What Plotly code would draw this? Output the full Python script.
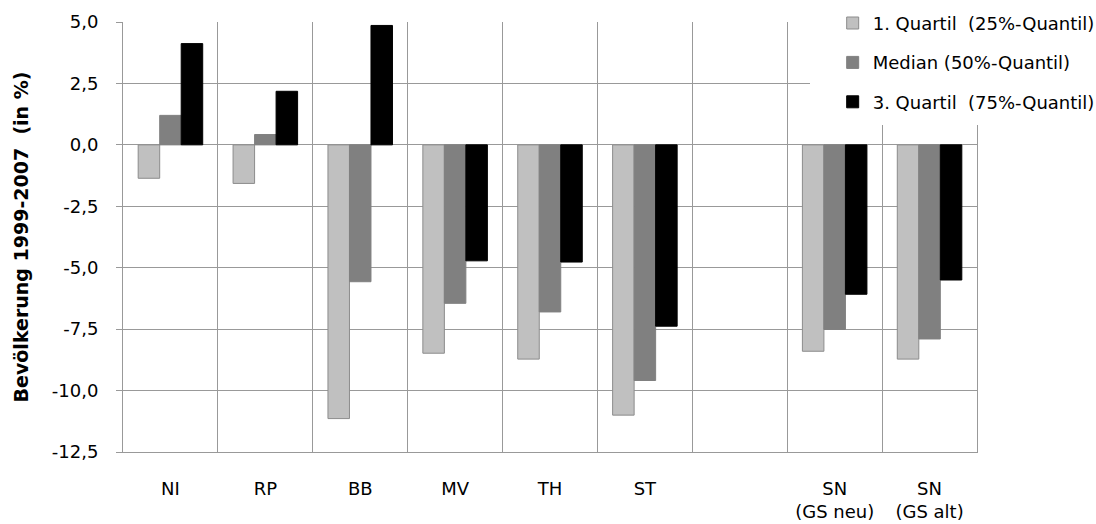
import plotly.graph_objects as go

categories = ["NI", "RP", "BB", "MV", "TH", "ST", " ", "SN<br>(GS neu)", "SN<br>(GS alt)"]
q1 = [-1.36, -1.57, -11.14, -8.48, -8.72, -11.00, None, -8.40, -8.72]
median = [1.20, 0.42, -5.57, -6.45, -6.80, -9.59, None, -7.51, -7.90]
q3 = [4.12, 2.18, 4.86, -4.72, -4.77, -7.38, None, -6.08, -5.50]

y_tick_values = [5.0, 2.5, 0.0, -2.5, -5.0, -7.5, -10.0, -12.5]
y_tick_labels = ["5,0", "2,5", "0,0", "-2,5", "-5,0", "-7,5", "-10,0", "-12,5"]

series_names = ["1. Quartil\u00a0 (25%-Quantil)", "Median (50%-Quantil)", "3. Quartil\u00a0 (75%-Quantil)"]
series_values = [q1, median, q3]
fills = ["#c0c0c0", "#808080", "#000000"]
outlines = ["#8c8c8c", "#808080", "#000000"]

FONT = "DejaVu Sans"
GRID = "#999999"

fig = go.Figure()
for i, (name, vals) in enumerate(zip(series_names, series_values)):
    fig.add_trace(go.Bar(
        x=categories, y=vals, name=name, legendgroup=f"g{i}",
        marker=dict(color=fills[i], line=dict(color=outlines[i], width=1)),
    ))

fig.update_layout(
    width=1096, height=524,
    margin=dict(l=123, r=119, t=22, b=72, autoexpand=False),
    paper_bgcolor="white", plot_bgcolor="white",
    barmode="group", bargap=0.32, bargroupgap=0,
    font=dict(family=FONT, size=18, color="#000000"),
    showlegend=True,
    legend=dict(
        x=0.831, xanchor="left", y=1.04, yanchor="top",
        bgcolor="rgba(0,0,0,0)", borderwidth=0,
        traceorder="grouped", tracegroupgap=13,
        font=dict(family=FONT, size=18, color="#000000"),
    ),
    shapes=[dict(
        type="rect", xref="paper", yref="paper",
        x0=(810 - 123) / 854, x1=1.2, y0=(452 - 125) / 430, y1=1.1,
        fillcolor="white", line=dict(width=0), layer="above",
    )],
)

fig.update_xaxes(
    type="category", tickson="boundaries",
    showgrid=True, gridcolor=GRID, gridwidth=1,
    showline=True, linecolor=GRID, linewidth=1, ticks="", zeroline=False,
    tickfont=dict(family=FONT, size=18, color="#000000"),
    ticklabelstandoff=20,
    automargin=False, fixedrange=True,
)
fig.update_yaxes(
    range=[-12.5, 5.0], tickmode="array", tickvals=y_tick_values, ticktext=y_tick_labels,
    showgrid=True, gridcolor=GRID, gridwidth=1,
    zeroline=False, showline=True, mirror=True, linecolor=GRID, linewidth=1,
    ticks="outside", ticklen=6, tickcolor=GRID,
    tickfont=dict(family=FONT, size=18, color="#000000"),
    ticklabelstandoff=14,
    title=dict(text="<b>Bevölkerung 1999-2007\u00a0 (in %)</b>",
               font=dict(family=FONT, size=19, color="#000000"), standoff=18),
    automargin=False, fixedrange=True,
)

fig.write_html("out.html")
